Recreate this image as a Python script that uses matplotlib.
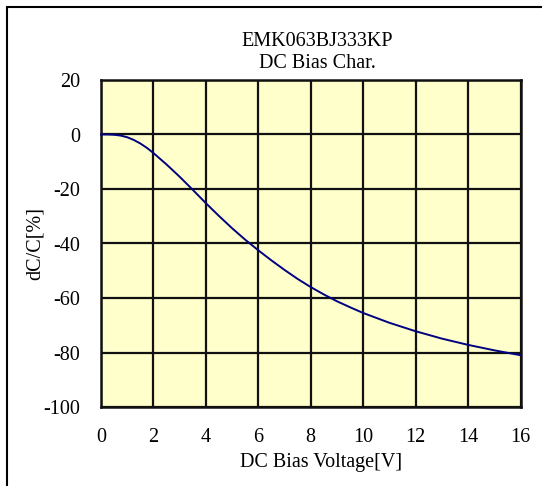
import matplotlib.pyplot as plt
from matplotlib.patches import Rectangle

# DC bias curve
voltage = [0, 0.25, 0.5, 0.75, 1, 1.25, 1.5, 1.75, 2, 2.5, 3, 3.5, 4, 4.5, 5, 5.5,
           6, 6.5, 7, 7.5, 8, 8.5, 9, 9.5, 10, 11, 12, 13, 14, 15, 16]
dcc = [0, 0, -0.1, -0.4, -1.0, -2.0, -3.3, -4.9, -6.8, -11.0, -15.5, -20.3, -25.2,
       -29.9, -34.4, -38.6, -42.5, -46.2, -49.7, -53.0, -56.0, -58.7, -61.2, -63.4,
       -65.5, -69.1, -72.2, -74.9, -77.2, -79.2, -81.0]

xticks = list(range(0, 17, 2))
yticks = list(range(-100, 21, 20))

plt.rcParams['font.family'] = ['Liberation Serif', 'DejaVu Serif']
plt.rcParams['axes.unicode_minus'] = False

fig = plt.figure(figsize=(5.42, 4.86), dpi=100)
ax = fig.add_axes([101 / 542, 1 - 407 / 486, 419.5 / 542, 327 / 486])
ax.set_facecolor('#FFFFCC')

ax.plot(voltage, dcc, color='#000080', lw=1.4, clip_on=False, zorder=3)

ax.set_xlim(0, 16)
ax.set_ylim(-100, 20)
ax.set_xticks(xticks)
ax.set_yticks(yticks)
ax.grid(True, color='#111111', lw=1.6)
ax.set_axisbelow(True)
ax.tick_params(length=0, labelsize=14.5)
ax.tick_params(axis='x', pad=15)
ax.tick_params(axis='y', pad=15)
for s in ax.spines.values():
    s.set_linewidth(1.8)
    s.set_color('#111111')

ax.set_xlabel('DC Bias Voltage[V]', fontsize=14.5, labelpad=3)
ax.xaxis.set_label_coords(0.525, -0.14)
ax.xaxis.label.set_va('top')
ax.set_ylabel('dC/C[%]', fontsize=14.5)
ax.yaxis.set_label_coords(-0.135, 0.5)
ax.set_title('EMK063BJ333KP\nDC Bias Char.', fontsize=14.5, linespacing=1.2,
             pad=8.5, x=0.515)

# outer frame of the chart (right and bottom run off the picture)
fig.patches.append(Rectangle((6.5 / 542, -0.1), 1.2, 1.1 - 7.3 / 486,
                             transform=fig.transFigure, fill=False,
                             edgecolor='black', lw=1.5))

fig.savefig('out.png', dpi=100)
